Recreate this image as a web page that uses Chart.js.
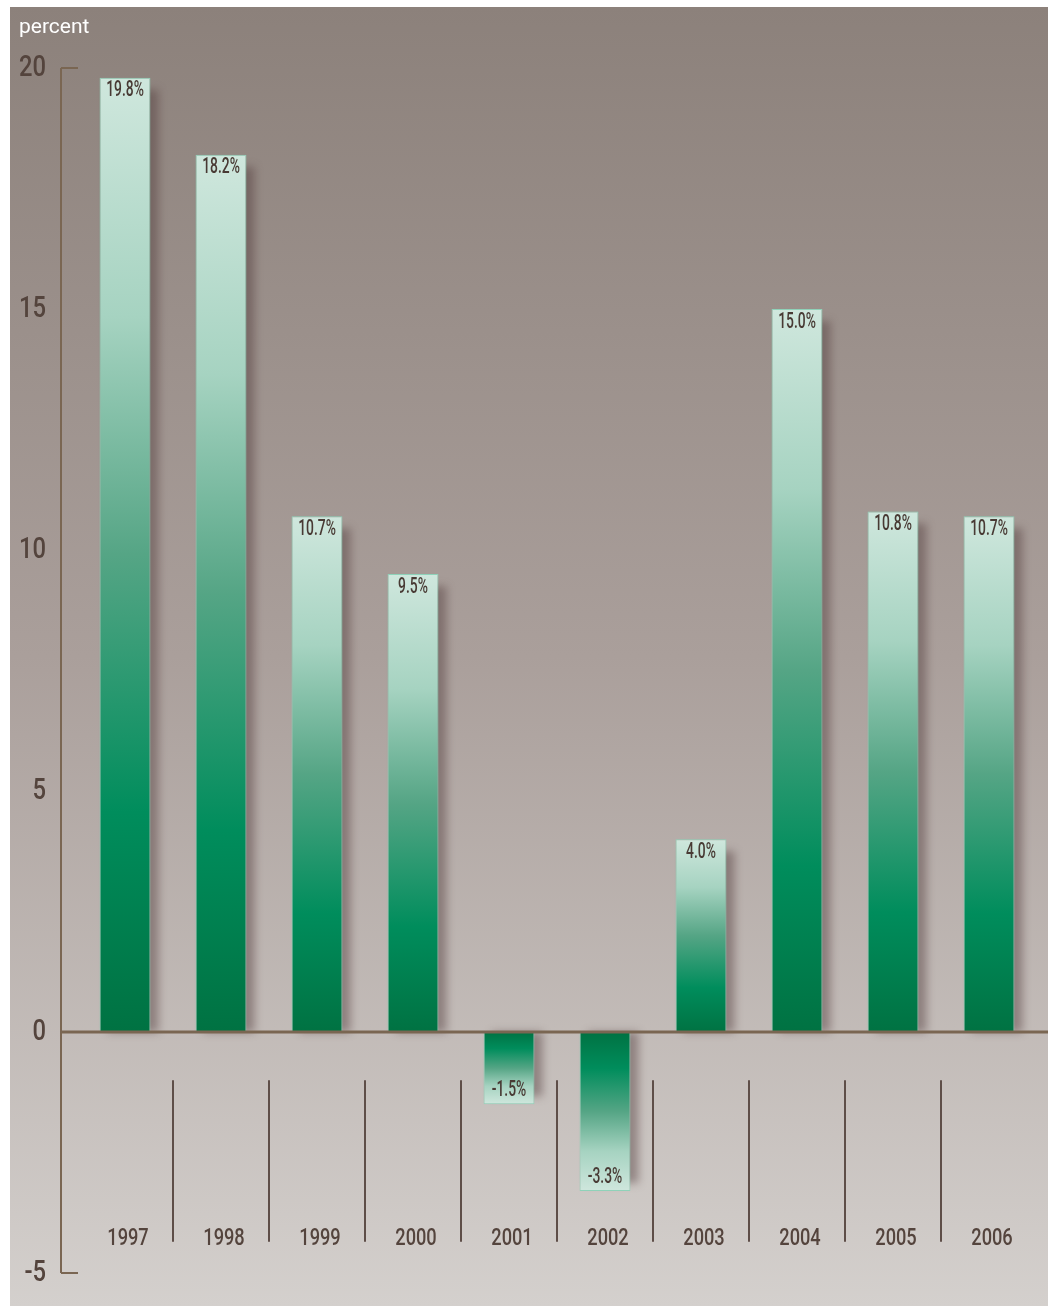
<!DOCTYPE html>
<html>
<head>
<meta charset="utf-8">
<script src="https://cdn.jsdelivr.net/npm/chart.js@4"></script>
<style>
  html, body { margin: 0; padding: 0; background: #ffffff; }
  #wrap { width: 1048px; height: 1306px; position: relative; }
</style>
</head>
<body>
<div id="wrap"><canvas id="growthChart" width="1048" height="1306"></canvas></div>
<script>
// data
const years = ['1997', '1998', '1999', '2000', '2001', '2002', '2003', '2004', '2005', '2006'];
const growth = [19.8, 18.2, 10.7, 9.5, -1.5, -3.3, 4.0, 15.0, 10.8, 10.7];
const yTicks = [-5, 0, 5, 10, 15, 20];

const axisBrown = '#7a6652';
const textBrown = '#54443d';

// Roboto squeezed sideways, the source uses a condensed face
function narrowText(ctx, str, x, y, size, squeeze, align) {
  ctx.save();
  ctx.font = '500 ' + size + 'px "Roboto", sans-serif';
  ctx.textAlign = align;
  ctx.textBaseline = 'middle';
  ctx.translate(x, y);
  ctx.scale(squeeze, 1);
  ctx.fillText(str, 0, 0);
  ctx.restore();
}

// gradient per bar: light at value end, dark green at zero
function barFill(c) {
  const chart = c.chart;
  if (!chart.chartArea) return '#009060';
  const y = chart.scales.y;
  const y0 = y.getPixelForValue(0);
  const y1 = y.getPixelForValue(c.raw);
  const g = chart.ctx.createLinearGradient(0, y1, 0, y0);
  g.addColorStop(0, '#cfe7dd');
  g.addColorStop(0.25, '#a6d3c1');
  g.addColorStop(0.5, '#55a585');
  g.addColorStop(0.77, '#008d5c');
  g.addColorStop(1, '#007242');
  return g;
}

const backdrop = {
  id: 'backdrop',
  beforeDraw(chart) {
    const ctx = chart.ctx;
    const g = ctx.createLinearGradient(0, 7, 0, 1306);
    g.addColorStop(0, '#8c817b');
    g.addColorStop(0.5, '#aa9f9b');
    g.addColorStop(1, '#d4d0cd');
    ctx.save();
    ctx.fillStyle = g;
    ctx.fillRect(10, 7, 1038, 1299);
    ctx.fillStyle = '#ffffff';
    ctx.font = '21px "Roboto", sans-serif';
    ctx.textBaseline = 'middle';
    ctx.fillText('percent', 19, 28);
    ctx.restore();
  }
};

// soft shadow on the right side of every bar
const shadows = {
  id: 'shadows',
  beforeDatasetsDraw(chart) {
    const ctx = chart.ctx;
    const meta = chart.getDatasetMeta(0);
    ctx.save();
    ctx.filter = 'blur(4px)';
    ctx.fillStyle = 'rgba(80, 58, 58, 0.45)';
    meta.data.forEach((bar, i) => {
      const left = bar.x - bar.width / 2 + 8;
      if (growth[i] >= 0) {
        ctx.fillRect(left, bar.y + 12, bar.width, bar.base - bar.y - 12);
      } else {
        ctx.fillRect(left, bar.base, bar.width, bar.y - bar.base - 8);
      }
    });
    ctx.restore();
  }
};

const decor = {
  id: 'decor',
  afterDatasetsDraw(chart) {
    const ctx = chart.ctx;
    const x = chart.scales.x;
    const y = chart.scales.y;
    const yTop = y.getPixelForValue(20);
    const yBot = y.getPixelForValue(-5);
    const yZero = y.getPixelForValue(0);
    const axisX = 61;

    ctx.save();
    // y axis line and end ticks
    ctx.strokeStyle = axisBrown;
    ctx.lineWidth = 2;
    ctx.beginPath();
    ctx.moveTo(axisX, yTop);
    ctx.lineTo(axisX, yBot);
    ctx.moveTo(axisX, yTop);
    ctx.lineTo(78, yTop);
    ctx.moveTo(axisX, yBot);
    ctx.lineTo(78, yBot);
    ctx.stroke();

    // zero line
    ctx.lineWidth = 3;
    ctx.beginPath();
    ctx.moveTo(axisX, yZero);
    ctx.lineTo(1048, yZero);
    ctx.stroke();

    // category separators
    ctx.strokeStyle = '#5e4e48';
    ctx.lineWidth = 2;
    ctx.beginPath();
    for (let i = 0; i < years.length - 1; i++) {
      const sx = Math.round((x.getPixelForValue(i) + x.getPixelForValue(i + 1)) / 2);
      ctx.moveTo(sx, y.getPixelForValue(-1));
      ctx.lineTo(sx, y.getPixelForValue(-4.35));
    }
    ctx.stroke();

    // y tick labels
    ctx.fillStyle = textBrown;
    yTicks.forEach(v => {
      narrowText(ctx, String(v), 46, y.getPixelForValue(v) + 1, 29, 0.82, 'right');
    });

    // year labels
    years.forEach((yr, i) => {
      narrowText(ctx, yr, x.getPixelForValue(i) + 3, y.getPixelForValue(-4.3), 24, 0.76, 'center');
    });

    // value labels
    ctx.fillStyle = '#483a34';
    const meta = chart.getDatasetMeta(0);
    meta.data.forEach((bar, i) => {
      const v = growth[i];
      const ty = v >= 0 ? bar.y + 13 : bar.y - 14;
      narrowText(ctx, v.toFixed(1) + '%', bar.x, ty, 22, 0.63, 'center');
    });
    ctx.restore();
  }
};

new Chart(document.getElementById('growthChart'), {
  type: 'bar',
  data: {
    labels: years,
    datasets: [{
      data: growth,
      backgroundColor: barFill,
      borderColor: '#8fd2b9',
      borderWidth: 1,
      borderSkipped: false,
      barPercentage: 0.53,
      categoryPercentage: 1
    }]
  },
  options: {
    responsive: false,
    animation: false,
    layout: { padding: { top: 68, bottom: 33, right: 11, left: 0 } },
    plugins: {
      legend: { display: false },
      tooltip: { enabled: false }
    },
    scales: {
      x: { display: false },
      y: {
        min: -5,
        max: 20,
        afterFit(scale) { scale.width = 77; },
        grid: { display: false, drawTicks: false },
        border: { display: false },
        ticks: { display: false, stepSize: 5 }
      }
    }
  },
  plugins: [backdrop, shadows, decor]
});
</script>
</body>
</html>
